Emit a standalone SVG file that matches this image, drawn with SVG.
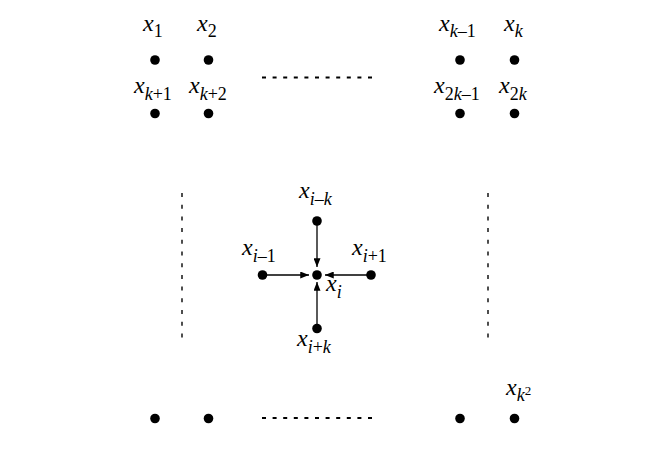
<svg xmlns="http://www.w3.org/2000/svg" width="666" height="462" viewBox="0 0 666 462">
<style>
text{font-family:"Liberation Serif","Times New Roman",Times,serif;font-size:24px;font-style:italic;fill:#000}
.s{font-size:18px}
.u{font-style:normal}
.sup{font-size:13px;font-style:normal}
.dot{fill:#000}
.edge{stroke:#000;stroke-width:1.3;fill:none}
.dh{stroke:#000;stroke-width:2;stroke-dasharray:4 6.6;fill:none}
.dv{stroke:#222;stroke-width:1.6;stroke-dasharray:4 7.7;fill:none}
</style>
<defs>
<marker id="ah" viewBox="0 0 10 8" refX="10" refY="4" markerWidth="9" markerHeight="7" markerUnits="userSpaceOnUse" orient="auto">
<path d="M0,0 L10,4 L0,8 z" fill="#000"/>
</marker>
</defs>
<rect width="666" height="462" fill="#fff"/>
<g id="connectors">
<line class="edge" x1="317" y1="221" x2="317" y2="267" marker-end="url(#ah)"/>
<line class="edge" x1="263" y1="275" x2="309" y2="275" marker-end="url(#ah)"/>
<line class="edge" x1="371" y1="275" x2="325" y2="275" marker-end="url(#ah)"/>
<line class="edge" x1="317" y1="328" x2="317" y2="282" marker-end="url(#ah)"/>
</g>
<g id="ellipses">
<line class="dh" x1="262" y1="77.5" x2="374" y2="77.5"/>
<line class="dh" x1="262" y1="418" x2="374" y2="418"/>
<line class="dv" x1="182" y1="193" x2="182" y2="338"/>
<line class="dv" x1="488" y1="193" x2="488" y2="338"/>
</g>
<g id="n1"><circle class="dot" cx="155" cy="60" r="4.8"/><text x="143" y="31">x<tspan class="s u" dy="5.5">1</tspan></text></g>
<g id="n2"><circle class="dot" cx="208.5" cy="60" r="4.8"/><text x="197" y="31">x<tspan class="s u" dy="5.5">2</tspan></text></g>
<g id="nk1"><circle class="dot" cx="460" cy="60" r="4.8"/><text x="439" y="31">x<tspan class="s" dy="6">k</tspan><tspan class="s u">–1</tspan></text></g>
<g id="nk"><circle class="dot" cx="514.5" cy="60" r="4.8"/><text x="504" y="31">x<tspan class="s" dy="6">k</tspan></text></g>
<g id="nkp1"><circle class="dot" cx="155" cy="113.5" r="4.8"/><text x="134" y="93">x<tspan class="s" dy="7">k</tspan><tspan class="s u">+1</tspan></text></g>
<g id="nkp2"><circle class="dot" cx="208.5" cy="113.5" r="4.8"/><text x="189" y="93">x<tspan class="s" dy="7">k</tspan><tspan class="s u">+2</tspan></text></g>
<g id="n2km1"><circle class="dot" cx="460" cy="113.5" r="4.8"/><text x="434" y="93">x<tspan class="s u" dy="7">2</tspan><tspan class="s">k</tspan><tspan class="s u">–1</tspan></text></g>
<g id="n2k"><circle class="dot" cx="514.5" cy="113.5" r="4.8"/><text x="499" y="93">x<tspan class="s u" dy="7">2</tspan><tspan class="s">k</tspan></text></g>
<g id="nimk"><circle class="dot" cx="317" cy="221" r="4.8"/><text x="299" y="198">x<tspan class="s" dy="7">i</tspan><tspan class="s u">–</tspan><tspan class="s">k</tspan></text></g>
<g id="nim1"><circle class="dot" cx="262.5" cy="275" r="4.8"/><text x="242" y="255">x<tspan class="s" dy="7">i</tspan><tspan class="s u">–1</tspan></text></g>
<g id="ni"><circle class="dot" cx="317" cy="275" r="4.8"/><text x="326" y="291">x<tspan class="s" dy="7">i</tspan></text></g>
<g id="nip1"><circle class="dot" cx="371" cy="275" r="4.8"/><text x="352" y="255">x<tspan class="s" dy="7">i</tspan><tspan class="s u">+1</tspan></text></g>
<g id="nipk"><circle class="dot" cx="317" cy="328.5" r="4.8"/><text x="297" y="346">x<tspan class="s" dy="7">i</tspan><tspan class="s u">+</tspan><tspan class="s">k</tspan></text></g>
<g id="b1"><circle class="dot" cx="155" cy="418.5" r="4.8"/></g>
<g id="b2"><circle class="dot" cx="208.5" cy="418.5" r="4.8"/></g>
<g id="b3"><circle class="dot" cx="460" cy="418.5" r="4.8"/></g>
<g id="nk2"><circle class="dot" cx="514.5" cy="418.5" r="4.8"/><text x="506" y="395">x<tspan class="s" dy="6">k</tspan><tspan class="sup" dy="-6">2</tspan></text></g>
</svg>
